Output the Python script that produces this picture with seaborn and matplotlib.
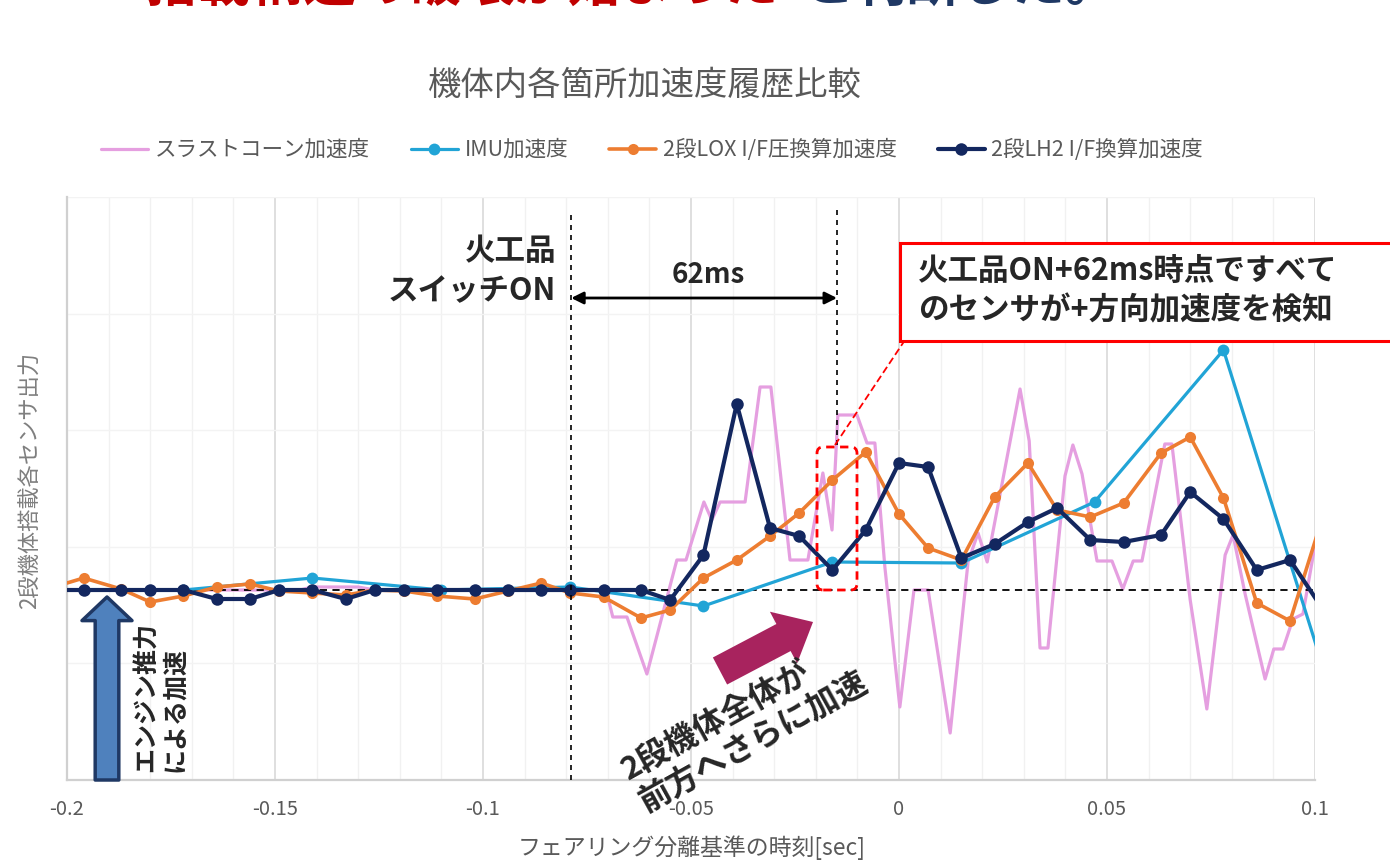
import numpy as np
import pandas as pd
import matplotlib
matplotlib.use("Agg")
import matplotlib.pyplot as plt
import seaborn as sns
from matplotlib.patches import Rectangle, FancyBboxPatch
from matplotlib.ticker import MultipleLocator

# ---------------- data ----------------
t_samples = [-0.204, -0.196, -0.187, -0.180, -0.172, -0.164, -0.156, -0.149, -0.141, -0.133,
             -0.126, -0.119, -0.111, -0.102, -0.094, -0.086, -0.079, -0.071, -0.062, -0.055,
             -0.047, -0.039, -0.031, -0.024, -0.016, -0.008, 0.000, 0.007, 0.015, 0.023,
             0.031, 0.038, 0.046, 0.054, 0.063, 0.070, 0.078, 0.086, 0.094, 0.102]
lh2_acc = [0, 0, 0, 0, 0, -0.09, -0.09, 0, 0, -0.09,
           0, 0, 0, 0, 0, 0, 0, 0, 0, -0.10,
           0.35, 1.86, 0.62, 0.54, 0.20, 0.60, 1.27, 1.23, 0.32, 0.46,
           0.68, 0.82, 0.50, 0.48, 0.55, 0.98, 0.71, 0.20, 0.30, -0.20]
lox_acc = [0.02, 0.12, 0.01, -0.12, -0.06, 0.03, 0.06, -0.01, -0.03, -0.05,
           0.00, -0.01, -0.06, -0.09, -0.01, 0.07, -0.03, -0.07, -0.28, -0.20,
           0.12, 0.30, 0.54, 0.77, 1.10, 1.38, 0.76, 0.42, 0.30, 0.93,
           1.27, 0.80, 0.73, 0.87, 1.37, 1.53, 0.92, -0.13, -0.31, 0.75]

t_imu = [-0.203, -0.172, -0.141, -0.110, -0.079, -0.047, -0.016, 0.015, 0.047, 0.078, 0.109]
imu_acc = [0, 0, 0.12, 0, 0.03, -0.16, 0.28, 0.27, 0.88, 2.40, -1.71]

t_cone = [-0.204, -0.144, -0.141, -0.130, -0.126, -0.072, -0.070, -0.0688, -0.0654, -0.0606,
          -0.0534, -0.0512, -0.0469, -0.0450, -0.0430, -0.0370, -0.0334, -0.0308, -0.0262, -0.0219,
          -0.0183, -0.0161, -0.0147, -0.0101, -0.0077, -0.0058, -0.0034, 0.0002, 0.0036, 0.0070,
          0.0123, 0.0166, 0.0190, 0.0212, 0.0291, 0.0313, 0.0339, 0.0358, 0.0399, 0.0418,
          0.0440, 0.0476, 0.0512, 0.0538, 0.0563, 0.0584, 0.0639, 0.0656, 0.0700, 0.0740,
          0.0784, 0.0803, 0.0832, 0.0880, 0.0901, 0.0923, 0.0947, 0.0971, 0.1000, 0.1012]
cone_acc = [0, 0, 0.03, 0.03, 0, 0, -0.07, -0.27, -0.27, -0.84,
            0.30, 0.30, 0.88, 0.70, 0.88, 0.88, 2.03, 2.03, 0.30, 0.30,
            1.17, 0.60, 1.75, 1.75, 1.47, 1.47, 0.23, -1.17, 0.00, 0.00,
            -1.43, 0.28, 0.57, 0.28, 2.01, 1.49, -0.58, -0.58, 1.14, 1.45,
            1.16, 0.29, 0.29, 0.01, 0.29, 0.29, 1.46, 1.46, -0.10, -1.19,
            0.35, 0.55, -0.04, -0.89, -0.59, -0.59, -0.29, -0.24, 0.45, 0.70]

series_names = ["スラストコーン加速度", "IMU加速度", "2段LOX I/F圧換算加速度", "2段LH2 I/F換算加速度"]
x_ticks = [-0.2, -0.15, -0.1, -0.05, 0, 0.05, 0.1]
x_tick_labels = ["-0.2", "-0.15", "-0.1", "-0.05", "0", "0.05", "0.1"]
t_ignition = -0.0788
t_detect = -0.0149

# ---------------- style ----------------
sns.set_theme(style="white")
plt.rcParams["font.family"] = ["Noto Sans CJK JP", "DejaVu Sans"]

W, H = 1390, 861
fig = plt.figure(figsize=(W / 100, H / 100), dpi=100)
ax = fig.add_axes([67 / W, 1 - 780 / H, 1248 / W, 583 / H])

def dx(px):  # pixel column -> data x (layout helper for annotations)
    return (px - 899) / 4160.0

def dy(py):  # pixel row -> data y
    return (590 - py) / 100.0

c_cone, c_imu, c_lox, c_lh2 = "#e59fe0", "#21a4d6", "#ed7d31", "#13275f"

df_cone = pd.DataFrame({"t": t_cone, "a": cone_acc})
df_imu = pd.DataFrame({"t": t_imu, "a": imu_acc})
df_lox = pd.DataFrame({"t": t_samples, "a": lox_acc})
df_lh2 = pd.DataFrame({"t": t_samples, "a": lh2_acc})

sns.lineplot(data=df_cone, x="t", y="a", ax=ax, color=c_cone, lw=2.3, label=series_names[0],
             sort=False, estimator=None, zorder=2)
ax.axhline(0, color="black", lw=1.3, ls=(0, (4, 3)), zorder=2.5)
sns.lineplot(data=df_imu, x="t", y="a", ax=ax, color=c_imu, lw=2.3, marker="o", markersize=8.5,
             markeredgewidth=0, label=series_names[1], sort=False, estimator=None, zorder=3)
sns.lineplot(data=df_lox, x="t", y="a", ax=ax, color=c_lox, lw=2.6, marker="o", markersize=8,
             markeredgewidth=0, label=series_names[2], sort=False, estimator=None, zorder=4)
sns.lineplot(data=df_lh2, x="t", y="a", ax=ax, color=c_lh2, lw=3.0, marker="o", markersize=9,
             markeredgewidth=0, label=series_names[3], sort=False, estimator=None, zorder=5)

ax.set_xlim(-0.2, 0.1)
ax.set_ylim(-1.90, 3.93)
ax.set_xticks(x_ticks)
ax.set_xticklabels(x_tick_labels)
ax.xaxis.set_minor_locator(MultipleLocator(0.01))
ax.set_yticks(np.linspace(-1.90, 3.93, 6))
ax.grid(which="major", axis="x", color="#d9d9d9", lw=1.2)
ax.grid(which="minor", axis="x", color="#f1f1f1", lw=1.0)
ax.grid(which="major", axis="y", color="#f3f3f3", lw=1.0)
ax.set_axisbelow(True)
ax.tick_params(axis="x", which="both", length=0, pad=14, labelsize=14.5, labelcolor="#595959")
ax.tick_params(axis="y", which="both", length=0, labelleft=False)
ax.set_xlabel("")
ax.set_ylabel("")
for s in ["top", "right"]:
    ax.spines[s].set_visible(False)
for s in ["left", "bottom"]:
    ax.spines[s].set_color("#d0d0d0")
    ax.spines[s].set_linewidth(1.6)

# legend
handles, labels = ax.get_legend_handles_labels()
ax.get_legend().remove()
fig.legend(handles, labels, loc="center", bbox_to_anchor=(652 / W, 1 - 150 / H), ncol=4,
           frameon=False, fontsize=15.5, handlelength=2.2, columnspacing=1.9, handletextpad=0.3,
           labelcolor="#595959")

# titles / axis labels
fig.text(645 / W, 1 - 85 / H, "機体内各箇所加速度履歴比較", ha="center", va="center",
         fontsize=24, color="#595959")
fig.text(692 / W, 1 - 848 / H, "フェアリング分離基準の時刻[sec]", ha="center", va="center",
         fontsize=16.5, color="#595959")
fig.text(30 / W, 1 - 480 / H, "2段機体搭載各センサ出力", ha="center", va="center",
         rotation=90, fontsize=16, color="#7f7f7f")

# cut-off slide headline at the very top (only its lower edge is inside the frame)
fig.text(146 / W, 1 - 12 / H, "搭載構造の破壊が始まった", ha="left", va="bottom",
         fontsize=38, weight="bold", color="#c00000")
fig.text(802 / W, 1 - 12 / H, "と判断した。", ha="left", va="bottom",
         fontsize=38, weight="bold", color="#1f3864")

# ignition / detection markers
ax.plot([t_ignition, t_ignition], [dy(215), dy(780)], color="black", lw=1.2, ls=(0, (3, 3)), zorder=6)
ax.plot([t_detect, t_detect], [dy(210), dy(447)], color="black", lw=1.2, ls=(0, (3, 3)), zorder=6)
ax.annotate("", xy=(t_detect, dy(298)), xytext=(t_ignition, dy(298)),
            arrowprops=dict(arrowstyle="<|-|>", color="black", lw=2, mutation_scale=18,
                            shrinkA=0, shrinkB=0), zorder=7)
ax.text(dx(708), dy(275), "62ms", ha="center", va="center", fontsize=20, weight="bold", zorder=7)
ax.text(dx(556), dy(271), "火工品\nスイッチON", ha="right", va="center", multialignment="right",
        fontsize=22, weight="bold", linespacing=1.3, zorder=7)

# red dashed highlight box + leader
ax.add_patch(FancyBboxPatch((dx(817), dy(590)), dx(857) - dx(817), dy(447) - dy(590),
                            boxstyle="round,pad=0,rounding_size=0.0015", mutation_aspect=41.6,
                            ec="#ff0000", fc="none", lw=2, ls=(0, (3, 2)), zorder=7))
ax.plot([dx(835), dx(905)], [dy(445), dy(340)], color="#ff0000", lw=1.3, ls=(0, (4, 2)),
        zorder=7, clip_on=False)

# callout box
fig.add_artist(Rectangle((900 / W, 1 - 341 / H), 520 / W, 98 / H, transform=fig.transFigure,
                         fc="white", ec="#ff0000", lw=2.2, zorder=8))
fig.text(918 / W, 1 - 291 / H, "火工品ON+62ms時点ですべて\nのセンサが+方向加速度を検知",
         ha="left", va="center", fontsize=22, weight="bold", linespacing=1.3, zorder=9)

# engine thrust arrow
ax.annotate("", xy=(dx(107), dy(597)), xytext=(dx(107), dy(780)),
            arrowprops=dict(arrowstyle="simple,head_length=17,head_width=36,tail_width=17",
                            mutation_scale=1, fc="#4f81bd", ec="#1f3864", lw=2.5,
                            shrinkA=0, shrinkB=0),
            annotation_clip=False, zorder=7)
ax.text(dx(134), dy(772), "エンジン推力\nによる加速", rotation=90, ha="left", va="bottom",
        multialignment="left", fontsize=18, weight="bold", linespacing=1.25, zorder=7)

# forward acceleration arrow
ax.annotate("", xy=(dx(813), dy(622)), xytext=(dx(720), dy(671)),
            arrowprops=dict(arrowstyle="simple,head_length=24,head_width=42,tail_width=22",
                            mutation_scale=1, fc="#a8235e", ec="none", shrinkA=0, shrinkB=0),
            annotation_clip=False, zorder=7)
ax.text(dx(745), dy(726), "2段機体全体が\n前方へさらに加速", rotation=29, rotation_mode="anchor",
        ha="center", va="center", multialignment="left", fontsize=23, weight="bold",
        linespacing=1.15, zorder=7)

fig.savefig("out.png", dpi=100)
